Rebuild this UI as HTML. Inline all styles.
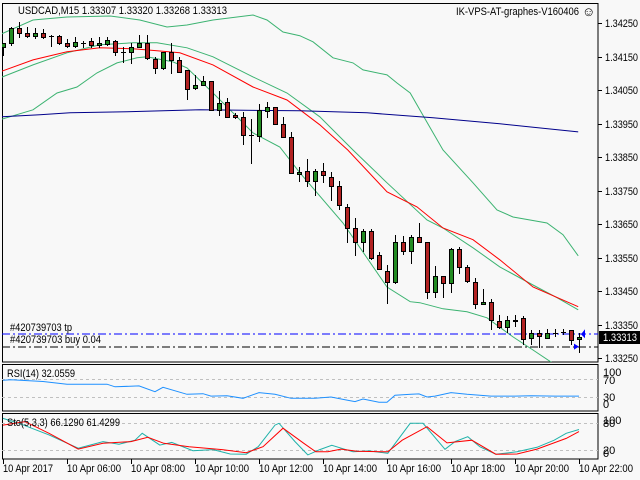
<!DOCTYPE html>
<html><head><meta charset="utf-8">
<style>
html,body{margin:0;padding:0;background:#f8f8f8;}
svg{display:block;font-family:"Liberation Sans",sans-serif;}
</style></head>
<body>
<svg id="chart" width="640" height="480" viewBox="0 0 640 480" xmlns="http://www.w3.org/2000/svg">
<rect x="0" y="0" width="640" height="480" fill="#f8f8f8"/>
<defs>
<clipPath id="mainClip"><rect x="2" y="3" width="596" height="359"/></clipPath>
<clipPath id="rsiClip"><rect x="2" y="364" width="596" height="47"/></clipPath>
<clipPath id="stoClip"><rect x="2" y="413" width="596" height="46"/></clipPath>
</defs>
<g id="frames" shape-rendering="crispEdges" fill="none" stroke="#000">
<rect x="2.5" y="3.5" width="595.5" height="358.5"/>
<rect x="2.5" y="364.5" width="595.5" height="46.5"/>
<rect x="2.5" y="413.5" width="595.5" height="45.5"/>
</g>
<g id="mainG" clip-path="url(#mainClip)"></g>
<g id="rsiG" clip-path="url(#rsiClip)"></g>
<g id="stoG" clip-path="url(#stoClip)"></g>
<g id="axisG"></g>
<text x="18" y="14" font-size="11" fill="#000" textLength="209" lengthAdjust="spacingAndGlyphs">USDCAD,M15  1.33307 1.33320 1.33268 1.33313</text>
<text x="456" y="15" font-size="11" fill="#000" textLength="123" lengthAdjust="spacingAndGlyphs">IK-VPS-AT-graphes-V160406</text>
<text x="582" y="16" font-size="13" fill="#000">☺</text>
<text x="10" y="331" font-size="11" fill="#000" textLength="62" lengthAdjust="spacingAndGlyphs">#420739703 tp</text>
<text x="10" y="343" font-size="11" fill="#000" textLength="91" lengthAdjust="spacingAndGlyphs">#420739703 buy 0.04</text>
<text x="7" y="377" font-size="11" fill="#000" textLength="68" lengthAdjust="spacingAndGlyphs">RSI(14) 32.0559</text>
<text x="7" y="426" font-size="11" fill="#000" textLength="113" lengthAdjust="spacingAndGlyphs">Sto(5,3,3) 66.1290 61.4299</text>
</svg>
<script>
// ---- data ----
const opens  = [1.34179,1.34191,1.34235,1.34220,1.34211,1.34220,1.34211,1.34211,1.34191,1.34182,1.34191,1.34197,1.34185,1.34188,1.34197,1.34164,1.34164,1.34179,1.34191,1.34143,1.34116,1.34164,1.34140,1.34110,1.34056,1.34065,1.34077,1.33991,1.34014,1.33976,1.33968,1.33916,1.33913,1.33988,1.34000,1.33949,1.33910,1.33798,1.33809,1.33777,1.33809,1.33789,1.33762,1.33701,1.33638,1.33597,1.33629,1.33556,1.33511,1.33478,1.33595,1.33568,1.33612,1.33595,1.33448,1.33496,1.33475,1.33574,1.33523,1.33478,1.33412,1.33418,1.33359,1.33343,1.33362,1.33368,1.33310,1.33326,1.33310,1.33326,1.33329,1.33335,1.33307];
const highs  = [1.34191,1.34238,1.34253,1.34238,1.34235,1.34232,1.34214,1.34214,1.34203,1.34209,1.34197,1.34206,1.34209,1.34209,1.34200,1.34179,1.34191,1.34214,1.34214,1.34149,1.34164,1.34191,1.34149,1.34110,1.34095,1.34092,1.34077,1.34047,1.34026,1.33982,1.33985,1.33962,1.34009,1.34014,1.34000,1.33968,1.33925,1.33821,1.33844,1.33815,1.33832,1.33806,1.33777,1.33710,1.33668,1.33635,1.33635,1.33565,1.33529,1.33617,1.33615,1.33617,1.33653,1.33597,1.33526,1.33496,1.33579,1.33582,1.33529,1.33490,1.33457,1.33427,1.33379,1.33374,1.33379,1.33374,1.33335,1.33335,1.33338,1.33338,1.33338,1.33335,1.33326];
const lows   = [1.34155,1.34185,1.34209,1.34209,1.34206,1.34206,1.34182,1.34188,1.34179,1.34179,1.34179,1.34179,1.34179,1.34185,1.34155,1.34134,1.34131,1.34179,1.34143,1.34101,1.34113,1.34101,1.34104,1.34023,1.34053,1.34065,1.33991,1.33976,1.33970,1.33965,1.33889,1.33832,1.33898,1.33970,1.33949,1.33910,1.33803,1.33777,1.33762,1.33738,1.33774,1.33722,1.33695,1.33597,1.33556,1.33568,1.33547,1.33517,1.33415,1.33475,1.33559,1.33535,1.33597,1.33430,1.33432,1.33432,1.33448,1.33505,1.33478,1.33400,1.33412,1.33338,1.33340,1.33329,1.33346,1.33291,1.33291,1.33282,1.33310,1.33316,1.33323,1.33291,1.33268];
const closes = [1.34191,1.34235,1.34220,1.34211,1.34220,1.34209,1.34210,1.34191,1.34182,1.34194,1.34190,1.34185,1.34191,1.34200,1.34164,1.34163,1.34179,1.34191,1.34146,1.34116,1.34164,1.34140,1.34104,1.34053,1.34065,1.34077,1.33991,1.34012,1.33970,1.33968,1.33916,1.33915,1.33991,1.34000,1.33949,1.33910,1.33803,1.33806,1.33777,1.33809,1.33795,1.33762,1.33707,1.33638,1.33597,1.33629,1.33550,1.33517,1.33478,1.33595,1.33568,1.33612,1.33597,1.33448,1.33496,1.33475,1.33574,1.33523,1.33481,1.33412,1.33418,1.33362,1.33343,1.33362,1.33361,1.33307,1.33326,1.33316,1.33326,1.33325,1.33328,1.33304,1.33313];

const bbUpperIdx = [-0.4,3.75,8,13.4,17.1,20.5,23,26.25,31.25,33,35,37.1,38.75,41.25,43.75,45,48,49.25,50.9,52.1,55,58.75,61.75,63.75,68,70,71.9];
const bbUpperVal = [1.34215,1.34259,1.34268,1.34271,1.34259,1.34238,1.34244,1.34259,1.34274,1.34259,1.34223,1.34212,1.34194,1.34146,1.34131,1.34110,1.34095,1.34071,1.34041,1.33991,1.33871,1.33773,1.33692,1.33671,1.33653,1.33618,1.33555];
const bbMidIdx = [-0.4,3.75,8,12.1,16.25,19.25,23,26.25,31.25,35.5,39.6,43.75,48,53,55,58.75,62.1,66.25,69.25,71.9];
const bbMidVal = [1.34086,1.34125,1.34161,1.34185,1.34191,1.34191,1.34176,1.34149,1.34089,1.34041,1.33970,1.33871,1.33773,1.33662,1.33638,1.33579,1.33522,1.33468,1.33430,1.33394];
const bbLowerIdx = [-0.4,3.75,6.75,9.25,11.75,14.25,16.75,18,21.25,23,26.25,28.75,31.25,34.6,37.1,42.5,48,50.9,52.1,55,58,60.5,63.75,66.25,69];
const bbLowerVal = [1.33961,1.33991,1.34041,1.34059,1.34101,1.34131,1.34146,1.34149,1.34134,1.34116,1.34041,1.33982,1.33922,1.33880,1.33803,1.33653,1.33462,1.33418,1.33415,1.33397,1.33388,1.33370,1.33313,1.33274,1.33230];
const maRedIdx = [-0.4,3.75,8,12.1,16.25,19.25,22.1,26.25,31.25,35.5,39.6,43.1,48,51.75,55,58.75,62.1,66.25,71.9];
const maRedVal = [1.34104,1.34140,1.34164,1.34176,1.34173,1.34167,1.34161,1.34125,1.34059,1.34020,1.33946,1.33871,1.33746,1.33701,1.33638,1.33603,1.33543,1.33462,1.33403];
const maBlueIdx = [-0.4,4.6,8.4,15.5,24.6,37.1,45.5,53.75,62.1,71.9];
const maBlueVal = [1.33970,1.33976,1.33982,1.33985,1.33991,1.33988,1.33982,1.33967,1.33949,1.33925];

const rsiIdx = [0,1,5,8,10,13,14,17,19,20,23,25,26,28,30,32,34,36,39,41,43,44,45,47,48,49,51,52,53,54,56,58,61,64,66,69,71,72];
const rsiVal = [68,69,65,59,59,59,53,55,42,52,36,37.5,32,33,27,40,36,27,27,30,23,19.5,25.5,18,18,34,36,37,30,32,40,36,32,32,33,32,32,32.06];
const stoKIdx = [0,2,5.75,9.4,12.5,14.5,16.5,17.4,19.6,21.1,23.75,26.25,28.4,30.4,31.9,34,34.5,36.5,38.1,39.6,41.1,43.75,45.75,48.1,50.9,52.5,55.25,56.5,58.1,59.6,61.6,64.25,66.75,68.9,70.4,72];
const stoKVal = [91,80,54,24,39,33,42,57.5,31,37,18.5,21,11,10.5,27.5,76,80,39,9,21,30.5,16,18,12.5,80,80,21.5,39,50,27.5,10.5,16,26,42,57.5,66.13];
const stoDIdx = [0,2.75,5.75,9.4,12.5,16,18.1,20.1,23.25,27.4,30.4,32.5,35,37.6,39.1,40.6,42.25,44.25,48.1,49.9,53,55.5,58.6,61.6,64.25,66.75,70.4,72];
const stoDVal = [76,84,57.5,22,35,39,48.5,35,27.5,21,14,27.5,69,35,16,16,22,17,16,42,72.5,36,42,10.5,11,22,46,61.43];

const priceTicks = [1.34250,1.34150,1.34050,1.33950,1.33850,1.33750,1.33650,1.33550,1.33450,1.33350,1.33250];
const timeLabels = ["10 Apr 2017","10 Apr 06:00","10 Apr 08:00","10 Apr 10:00","10 Apr 12:00","10 Apr 14:00","10 Apr 16:00","10 Apr 18:00","10 Apr 20:00","10 Apr 22:00"];
const timeTickIdx = [0,8,16,24,32,40,48,56,64,72];
const tpPrice = 1.33321, buyPrice = 1.33284, lastPrice = 1.33313;

// ---- axes ----
const NS = "http://www.w3.org/2000/svg";
const xOf = i => 3 + 8 * i;
const yP = p => 23 + (1.3425 - p) * 33500;
const yRsi = v => 397 - (v - 30) * 0.4425;
const ySto = v => 450 - (v - 20) * 0.4444;
function mk(tag, attrs, parent) {
  const e = document.createElementNS(NS, tag);
  for (const k in attrs) e.setAttribute(k, attrs[k]);
  parent.appendChild(e);
  return e;
}
const mainG = document.getElementById('mainG');
const rsiG = document.getElementById('rsiG');
const stoG = document.getElementById('stoG');
const axisG = document.getElementById('axisG');

function line(idx, vals, yf, color, parent, name) {
  const pts = idx.map((i, k) => xOf(i).toFixed(1) + ',' + yf(vals[k]).toFixed(1)).join(' ');
  const pl = mk('polyline', {points: pts, fill: 'none', stroke: color, 'stroke-width': 1}, parent);
  
  
}

line(bbUpperIdx, bbUpperVal, yP, '#3cb371', mainG, 'bollinger-upper');
line(bbMidIdx, bbMidVal, yP, '#3cb371', mainG, 'bollinger-middle');
line(bbLowerIdx, bbLowerVal, yP, '#3cb371', mainG, 'bollinger-lower');
line(maRedIdx, maRedVal, yP, '#ff0000', mainG, 'moving-average-red');
line(maBlueIdx, maBlueVal, yP, '#00008b', mainG, 'moving-average-blue');

const tpL = mk('line', {x1: 2, x2: 598, y1: yP(tpPrice).toFixed(0), y2: yP(tpPrice).toFixed(0), stroke: '#0000ff', 'stroke-dasharray': '8,3,2,3', 'shape-rendering': 'crispEdges'}, mainG);


const buyL = mk('line', {x1: 2, x2: 598, y1: yP(buyPrice).toFixed(0), y2: yP(buyPrice).toFixed(0), stroke: '#000', 'stroke-dasharray': '8,3,2,3', 'shape-rendering': 'crispEdges'}, mainG);



for (let i = 0; i < opens.length; i++) {
  const x = xOf(i);
  const g = mk('g', {'shape-rendering': 'crispEdges'}, mainG);
  
  
  mk('line', {x1: x + 0.5, x2: x + 0.5, y1: Math.round(yP(highs[i])), y2: Math.round(yP(lows[i])) + 1, stroke: '#000'}, g);
  const yo = Math.round(yP(opens[i])), yc = Math.round(yP(closes[i]));
  const top = Math.min(yo, yc), h = Math.abs(yo - yc);
  if (h < 1) {
    mk('line', {x1: x - 2, x2: x + 3, y1: top + 0.5, y2: top + 0.5, stroke: '#000'}, g);
  } else {
    mk('rect', {x: x - 1.5, y: top + 0.5, width: 4, height: h, fill: closes[i] >= opens[i] ? '#228b22' : '#b22222', stroke: '#000'}, g);
  }
}

const lx = xOf(opens.length - 1);
const a1 = mk('path', {d: `M${lx+6},${yP(tpPrice)-5} L${lx+2},${yP(tpPrice)} L${lx+6},${yP(tpPrice)+4} Z`, fill: '#0000ff'}, mainG);


const a2 = mk('path', {d: `M${lx-5},${yP(buyPrice)-3} L${lx},${yP(buyPrice)} L${lx-5},${yP(buyPrice)+3} Z`, fill: '#0000ff'}, mainG);



[70, 30].forEach(v => {
  const l = mk('line', {x1: 2, x2: 598, y1: Math.round(yRsi(v)) + 0.5, y2: Math.round(yRsi(v)) + 0.5, stroke: '#c0c0c0', 'stroke-dasharray': '3,3'}, rsiG);
  
  
});
line(rsiIdx, rsiVal, yRsi, '#1e90ff', rsiG, 'rsi-line');

[80, 20].forEach(v => {
  const l = mk('line', {x1: 2, x2: 598, y1: Math.round(ySto(v)) + 0.5, y2: Math.round(ySto(v)) + 0.5, stroke: '#c0c0c0', 'stroke-dasharray': '3,3'}, stoG);
  
  
});
line(stoKIdx, stoKVal, ySto, '#20b2aa', stoG, 'stochastic-main-line');
line(stoDIdx, stoDVal, ySto, '#ff0000', stoG, 'stochastic-signal-line');

priceTicks.forEach(p => {
  const y = Math.round(yP(p));
  const t = mk('line', {x1: 598, x2: 602, y1: y + 0.5, y2: y + 0.5, stroke: '#000', 'shape-rendering': 'crispEdges'}, axisG);
  
  
  const tx = mk('text', {x: 605, y: y + 4, 'font-size': 11, fill: '#000', textLength: 33, lengthAdjust: 'spacingAndGlyphs'}, axisG);
  tx.textContent = p.toFixed(5);
  
  
});
const yl = Math.round(yP(lastPrice));
const box = mk('rect', {x: 599, y: yl - 6, width: 41, height: 13, fill: '#000'}, axisG);


const bt = mk('text', {x: 603, y: yl + 4, 'font-size': 11, fill: '#fff', textLength: 34, lengthAdjust: 'spacingAndGlyphs'}, axisG);
bt.textContent = lastPrice.toFixed(5);



[[100, 372], [70, 380], [30, 397], [0, 404]].forEach(([v, y]) => {
  const t = mk('text', {x: 603, y: y + 4, 'font-size': 11, fill: '#000'}, axisG);
  t.textContent = String(v);
  
  
});
[[100, 420], [80, 423], [20, 450], [0, 453]].forEach(([v, y]) => {
  const t = mk('text', {x: 603, y: y + 4, 'font-size': 11, fill: '#000'}, axisG);
  t.textContent = String(v);
  
  
});

timeTickIdx.forEach((i, k) => {
  const x = xOf(i);
  const t = mk('line', {x1: x + 0.5, x2: x + 0.5, y1: 459, y2: 464, stroke: '#000', 'shape-rendering': 'crispEdges'}, axisG);
  
  
  const tx = mk('text', {x: x, y: 472, 'font-size': 11, fill: '#000', textLength: k === 0 ? 50 : 54, lengthAdjust: 'spacingAndGlyphs'}, axisG);
  tx.textContent = timeLabels[k];
  
  
});
</script>
</body></html>
